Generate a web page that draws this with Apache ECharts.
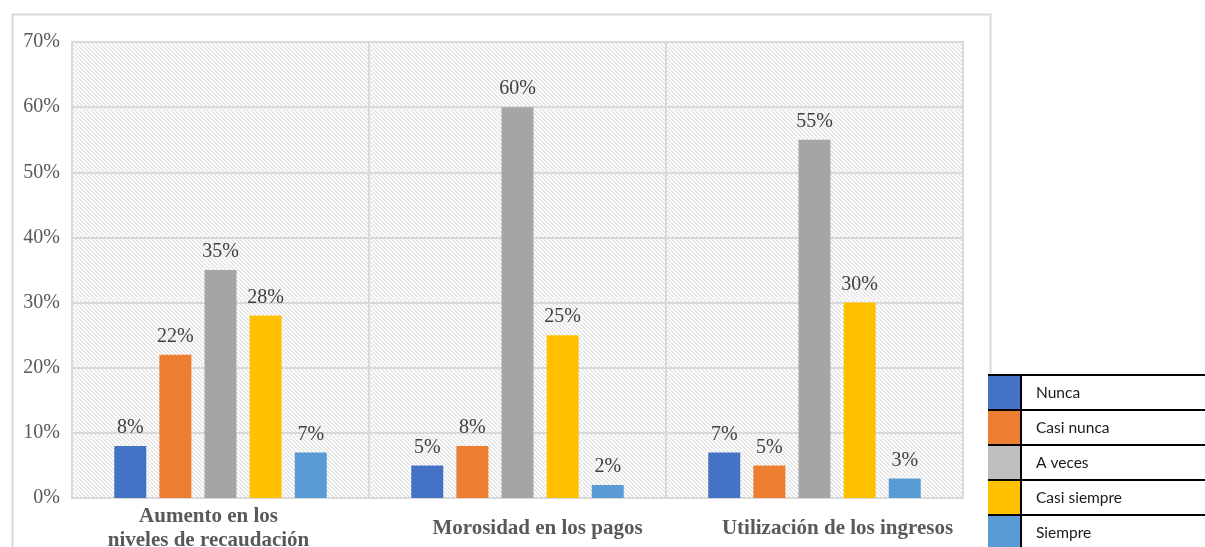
<!DOCTYPE html>
<html>
<head>
<meta charset="utf-8">
<script src="https://cdn.jsdelivr.net/npm/echarts@6/dist/echarts.min.js"></script>
<style>
html, body { margin: 0; padding: 0; background: #fff; }
#chart { width: 1205px; height: 547px; }
</style>
</head>
<body>
<div id="chart"></div>
<script>
var categories = ['Aumento en los\nniveles de recaudación', 'Morosidad en los pagos', 'Utilización de los ingresos'];
var seriesNames = ['Nunca', 'Casi nunca', 'A veces', 'Casi siempre', 'Siempre'];
var nunca = [8, 5, 7];
var casiNunca = [22, 8, 5];
var aVeces = [35, 60, 55];
var casiSiempre = [28, 25, 30];
var siempre = [7, 2, 3];
var barColors = ['#4472C4', '#ED7D31', '#A5A5A5', '#FFC000', '#5B9BD5'];
var legendColors = ['#4472C4', '#ED7D31', '#BFBFBF', '#FFC000', '#5B9BD5'];

// diagonal hatch for plot background
function hatch() {
	var s = 4;
	var c = document.createElement('canvas');
	c.width = s; c.height = s;
	var ctx = c.getContext('2d');
	var img = ctx.createImageData(s, s);
	for (var y = 0; y < s; y++) {
		for (var x = 0; x < s; x++) {
			var d = ((x - y) % s + s) % s;
			var v = d < 2 ? 230 : 255;
			var i = (y * s + x) * 4;
			img.data[i] = v; img.data[i + 1] = v; img.data[i + 2] = v; img.data[i + 3] = 255;
		}
	}
	ctx.putImageData(img, 0, 0);
	return c;
}

var myChart = echarts.init(document.getElementById('chart'));
var allData = [nunca, casiNunca, aVeces, casiSiempre, siempre];

var series = seriesNames.map(function (name, i) {
	return {
		name: name,
		type: 'bar',
		data: allData[i],
		barWidth: 32,
		barGap: '41%',
		itemStyle: { color: barColors[i] },
		label: {
			show: true,
			position: 'top',
			distance: 8,
			formatter: '{c}%',
			fontFamily: 'Liberation Serif',
			fontSize: 20,
			color: '#404040'
		}
	};
});

var rowTops = [375, 410, 445, 480, 515];
var graphics = [{
	type: 'rect',
	left: 10, top: 12,
	shape: { width: 978, height: 560 },
	style: { fill: 'none', stroke: '#d9d9d9', lineWidth: 2 },
	z: -10
}];
rowTops.forEach(function (y) {
	graphics.push({
		type: 'line',
		shape: { x1: 988, y1: y, x2: 1205, y2: y },
		style: { stroke: '#000', lineWidth: 2 },
		z: 10
	});
});
graphics.push({
	type: 'line',
	shape: { x1: 1021, y1: 375, x2: 1021, y2: 547 },
	style: { stroke: '#000', lineWidth: 2 },
	z: 10
});

// category label nudges (excel places them a bit off-centre)
var labelRich = {};
[-12, 20, 23].forEach(function (dx, i) {
	labelRich['s' + i] = {
		fontFamily: 'Liberation Serif',
		fontWeight: 'bold',
		fontSize: 21,
		color: '#595959',
		lineHeight: 24,
		padding: dx >= 0 ? [0, 0, 0, 2 * dx] : [0, -2 * dx, 0, 0]
	};
});

option = {
	animation: false,
	backgroundColor: '#fff',
	grid: {
		left: 72, right: 242, top: 42, bottom: 49,
		outerBoundsMode: 'none',
		containLabel: false,
		show: true,
		borderColor: '#d9d9d9',
		borderWidth: 2,
		backgroundColor: { image: hatch(), repeat: 'repeat' }
	},
	legend: {
		orient: 'vertical',
		left: 988, top: 375,
		width: 217, height: 200,
		itemWidth: 33, itemHeight: 35,
		itemGap: 0,
		icon: 'rect',
		padding: 0,
		data: seriesNames.map(function (n, i) {
			return { name: n, itemStyle: { color: legendColors[i] } };
		}),
		textStyle: {
			fontFamily: 'Lato',
			fontSize: 15.5,
			color: '#1a1a1a',
			padding: [0, 0, 0, 10]
		}
	},
	xAxis: {
		type: 'category',
		data: categories,
		axisTick: { show: false, interval: 0 },
		axisLine: { lineStyle: { color: '#d9d9d9', width: 2 } },
		splitLine: { show: true, interval: 0, lineStyle: { color: '#d9d9d9', width: 2 } },
		axisLabel: {
			interval: 0,
			hideOverlap: false,
			formatter: function (v, i) {
				return v.split('\n').map(function (line) {
					return '{s' + i + '|' + line + '}';
				}).join('\n');
			},
			rich: labelRich,
			fontFamily: 'Liberation Serif',
			fontWeight: 'bold',
			fontSize: 21,
			color: '#595959',
			lineHeight: 24,
			verticalAlign: 'middle',
			margin: 31
		}
	},
	yAxis: {
		type: 'value',
		min: 0, max: 70, interval: 10,
		axisLine: { show: false },
		axisTick: { show: false },
		splitLine: { lineStyle: { color: '#d9d9d9', width: 2 } },
		axisLabel: {
			formatter: '{value}%',
			fontFamily: 'Liberation Serif',
			fontSize: 20,
			color: '#595959',
			margin: 12
		}
	},
	graphic: graphics,
	series: series
};

myChart.setOption(option);
</script>
</body>
</html>
